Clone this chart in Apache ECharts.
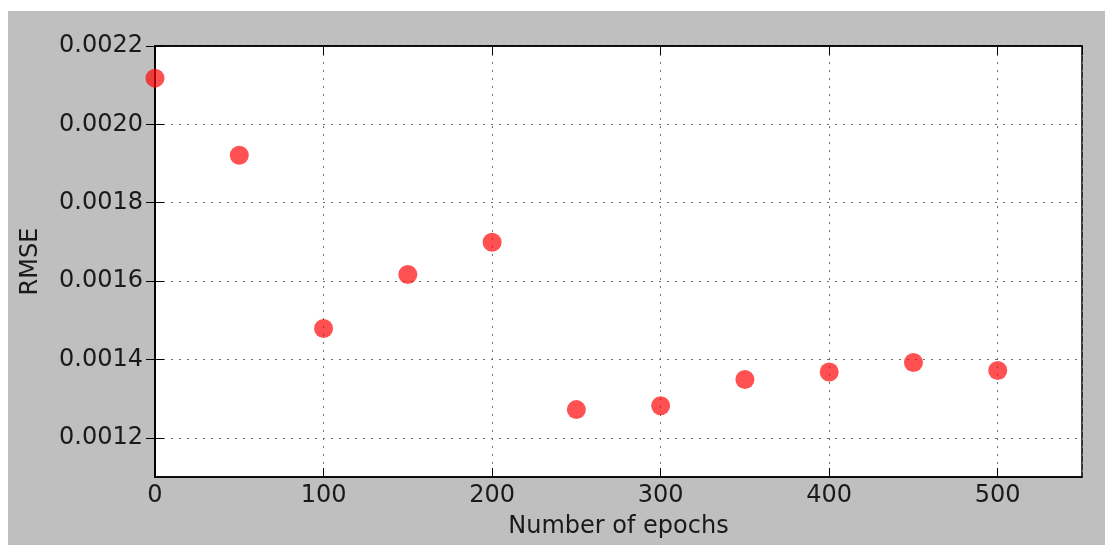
<!DOCTYPE html>
<html>
<head>
<meta charset="utf-8">
<script src="https://cdn.jsdelivr.net/npm/echarts@6/dist/echarts.min.js"></script>
<style>
  html, body { margin: 0; padding: 0; background: #fff; }
  #main { position: absolute; left: 8px; top: 11px; width: 1097px; height: 534px; background: #bfbfbf; }
</style>
</head>
<body>
<div id="main"></div>
<script>
// epochs on x
var epochs = [0, 50, 100, 150, 200, 250, 300, 350, 400, 450, 500];
// RMSE per epoch count
var rmse = [0.002118, 0.001921, 0.001479, 0.001617, 0.001699, 0.001272, 0.001282, 0.001349, 0.001368, 0.001392, 0.001372];
// y tick labels
var yTicks = [0.0012, 0.0014, 0.0016, 0.0018, 0.0020, 0.0022];

var myChart = echarts.init(document.getElementById('main'));
var points = [];
epochs.forEach(function (e, i) {
    points.push([e, rmse[i]]);
});

var fontFam = 'DejaVu Sans';
var textCol = '#1a1a1a';
var gridLine = { show: true, lineStyle: { color: '#707070', width: 1, type: [2, 6] } };

var option = {
    animation: false,
    grid: {
        left: 147, top: 35, right: 23, bottom: 68,
        show: true, backgroundColor: '#fff', borderColor: '#000', borderWidth: 1.5
    },
    xAxis: [{
        type: 'value', min: 0, max: 550, interval: 100,
        name: 'Number of epochs', nameLocation: 'middle', nameGap: 38,
        nameTextStyle: { fontFamily: fontFam, fontSize: 24, color: textCol },
        axisLine: { show: true, lineStyle: { color: '#000', width: 1.5 } },
        axisTick: { show: true, inside: true, length: 9, lineStyle: { color: '#000' } },
        axisLabel: { fontFamily: fontFam, fontSize: 24, color: textCol, margin: 7, showMaxLabel: false },
        splitLine: gridLine
    }, {
        type: 'value', min: 0, max: 550, interval: 100, position: 'top',
        axisLine: { show: true, lineStyle: { color: '#000', width: 1.5 } },
        axisTick: { show: true, inside: true, length: 9, lineStyle: { color: '#000' } },
        axisLabel: { show: false },
        splitLine: { show: false }
    }],
    yAxis: [{
        type: 'value', min: 0.0011, max: 0.0022,
        name: 'RMSE', nameLocation: 'middle', nameGap: 112, nameRotate: 90,
        nameTextStyle: { fontFamily: fontFam, fontSize: 24, color: textCol },
        axisLine: { show: true, lineStyle: { color: '#000', width: 1.5 } },
        axisTick: { show: true, inside: true, length: 9, lineStyle: { color: '#000' }, customValues: yTicks },
        axisLabel: {
            fontFamily: fontFam, fontSize: 24, color: textCol, margin: 12,
            customValues: yTicks,
            formatter: function (v) { return v.toFixed(4); }
        },
        splitLine: gridLine
    }, {
        type: 'value', min: 0.0011, max: 0.0022, position: 'right',
        axisLine: { show: true, lineStyle: { color: '#000', width: 1.5 } },
        axisTick: { show: true, inside: true, length: 9, lineStyle: { color: '#000' }, customValues: yTicks },
        axisLabel: { show: false, customValues: yTicks },
        splitLine: { show: false }
    }],
    series: [{
        type: 'scatter',
        data: points,
        symbolSize: 19,
        itemStyle: { color: 'rgba(255, 0, 0, 0.85)' }
    }]
};
myChart.setOption(option);
</script>
</body>
</html>
